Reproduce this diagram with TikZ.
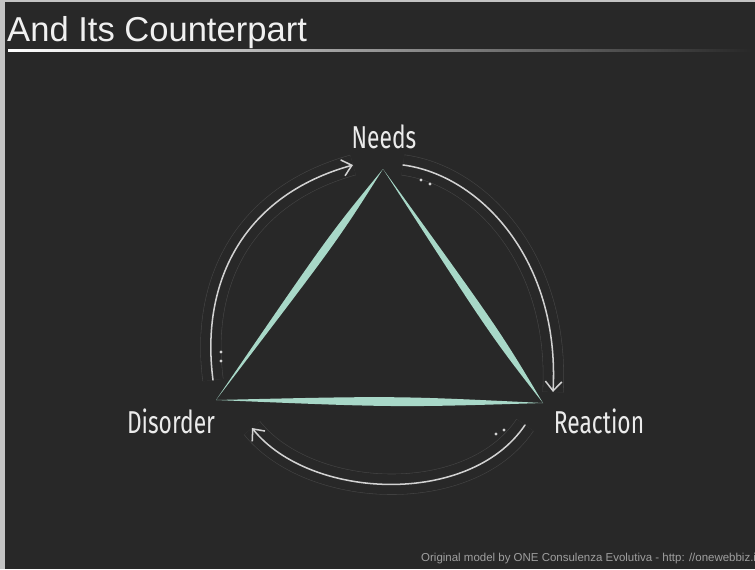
\documentclass[tikz,border=0pt]{standalone}
\usepackage{fontspec}
\setmainfont{Liberation Sans}
\newfontfamily\handfont[FakeStretch=0.72]{Fira Sans}
\usepackage{xcolor}
\usepackage{tikz}
\usetikzlibrary{arrows.meta,calc}

\definecolor{slidebg}{HTML}{282828}
\definecolor{mint}{HTML}{A8D8C8}
\definecolor{chalk}{HTML}{D2D2D2}
\definecolor{ghost}{HTML}{444444}
\definecolor{framegray}{HTML}{C4C4C4}

% tapered brush stroke: from, to, where it is widest, width
\newcommand{\brush}[4]{%
  \fill[mint] (#1) .. controls ($(#1)!#3!(#2)!#4!90:(#2)$) .. (#2)
    .. controls ($(#1)!#3!(#2)!#4!-90:(#2)$) .. (#1);}

\begin{document}
\begin{tikzpicture}[x=0.3mm, y=-0.3mm,
    label/.style={text=white!92!black, font=\handfont\fontsize{27}{30}\selectfont,
                  inner sep=0pt, anchor=base},
    cycle/.style={chalk, line width=1.3pt, line cap=round,
                  -{Straight Barb[length=8pt,width=14pt,line width=1.3pt]}},
    halo/.style={ghost, line width=0.5pt, double=slidebg, double distance=17pt}]
  \useasboundingbox (0,0) rectangle (755,569);
  \clip (0,0) rectangle (755,569);

  % Slide background
  \fill[framegray] (0,0) rectangle (755,569);
  \fill[slidebg] (5,2) rectangle (755,569);

  % Title and its rule
  \node[anchor=base west, inner sep=0pt, text=white!94!black,
        font=\fontsize{29.5}{33}\selectfont] (title) at (7,42) {And Its Counterpart};
  \shade[left color=white, middle color=gray!70!slidebg, right color=slidebg]
    (8,50) rectangle (752,52);

  % Labels
  \node[label] (needs) at (384,148) {Needs};
  \node[label] (disorder) at (171,433) {Disorder};
  \node[label] (reaction) at (599,433) {Reaction};

  % Triangle corners
  \coordinate (tn) at (383,169);
  \coordinate (td) at (216,400);
  \coordinate (tr) at (543,403);

  % Triangle
  \brush{tn}{td}{0.3}{4.5pt}
  \brush{td}{tr}{0.55}{5pt}
  \brush{tn}{tr}{0.7}{4.5pt}

  % Arc ends
  \coordinate (ls) at (213,380);
  \coordinate (le) at (353,165);
  \coordinate (rs) at (403,165);
  \coordinate (re) at (553,392);
  \coordinate (bs) at (525,425);
  \coordinate (be) at (252,428);

  % Faint outlines round the arcs
  \draw[halo] (ls) .. controls (200,280) and (245,195) .. (le);
  \draw[halo] (rs) .. controls (480,175) and (560,260) .. (re);
  \draw[halo] (bs) .. controls (470,507) and (310,500) .. (be);

  % Cycle arrows
  \draw[cycle] (ls) .. controls (200,280) and (245,195) .. (le);
  \draw[cycle] (rs) .. controls (480,175) and (560,260) .. (re);
  \draw[cycle] (bs) .. controls (470,507) and (310,500) .. (be);

  % Dots at the tails
  \foreach \p in {(221,352),(221,361),(421,180),(430,184),(496,434),(504,430)}
    \fill[chalk] \p circle[radius=1.4pt];

  % Credit line
  \node[anchor=base west, inner sep=0pt, text=gray!75!white,
        font=\fontsize{9.8}{11}\selectfont] (credit) at (421,561)
    {Original model by ONE Consulenza Evolutiva - http: //onewebbiz.it};
\end{tikzpicture}
\end{document}
